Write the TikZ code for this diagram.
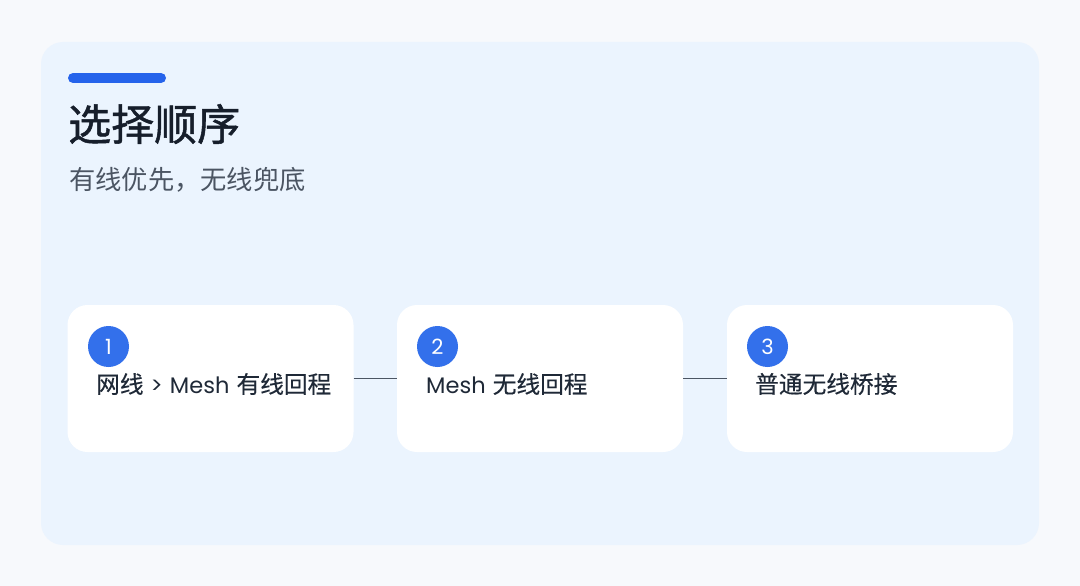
\documentclass[tikz,border=0pt]{standalone}
\usepackage{fontspec}
\newfontfamily\cjk{Noto Sans CJK SC}
\newfontfamily\cjkb[FakeBold=1.2]{Noto Sans CJK SC}
\newfontfamily\cjkm[FakeBold=0.4]{Noto Sans CJK SC}
\newfontfamily\lat{Poppins}
\definecolor{bgc}{HTML}{F7F9FC}
\definecolor{panelc}{HTML}{EBF4FE}
\definecolor{barc}{HTML}{2563EB}
\definecolor{circc}{HTML}{3370EB}
\definecolor{titlec}{HTML}{161E2B}
\definecolor{subc}{HTML}{4B5563}
\definecolor{textc}{HTML}{1F2937}
\definecolor{linec}{HTML}{4B5563}
\tikzset{
  card/.style={fill=white, rounded corners=20pt, minimum width=286pt, minimum height=147pt, inner sep=0pt, draw=none},
  num/.style={circle, fill=circc, minimum size=41pt, inner sep=0pt, text=white, font=\lat\fontsize{21}{21}\selectfont},
  cardtext/.style={anchor=west, inner sep=0pt, text=textc, font=\cjkm\fontsize{23.7}{25}\selectfont},
  conn/.style={draw=linec, line width=0.9pt},
}
\newcommand{\latt}[1]{{\lat\fontsize{22.5}{25}\selectfont #1}}
\begin{document}
\begin{tikzpicture}[x=1pt,y=-1pt]
\useasboundingbox (0,0) rectangle (1080,586);
\fill[bgc] (0,0) rectangle (1080,586);
\fill[panelc, rounded corners=22pt] (41,42) rectangle (1039,545);
\draw[barc, line width=10pt, line cap=round] (73,78) -- (161,78);
\node[anchor=west, inner sep=0pt, text=titlec, font=\cjkb\fontsize{43}{45}\selectfont] (title) at (68,124) {选择顺序};
\node[anchor=west, inner sep=0pt, text=subc, font=\cjk\fontsize{26.3}{28}\selectfont] (sub) at (69,180) {有线优先，无线兜底};
\node[card] (c1) at (210.5,378.5) {};
\node[card] (c2) at (540,378.5) {};
\node[card] (c3) at (870,378.5) {};
\draw[conn] (c1.east) -- (c2.west);
\draw[conn] (c2.east) -- (c3.west);
\node[num] (n1) at (108.5,346.5) {1};
\node[num] (n2) at (437.5,346.5) {2};
\node[num] (n3) at (767.5,346.5) {3};
\node[cardtext] (t1) at (96,384) {网线\hspace{0.3em}\latt{>}\hspace{0.3em}\latt{Mesh}\hspace{0.3em}有线回程};
\node[cardtext] (t2) at (426,384) {\latt{Mesh}\hspace{0.3em}无线回程};
\node[cardtext] (t3) at (755,384) {普通无线桥接};
\end{tikzpicture}
\end{document}
